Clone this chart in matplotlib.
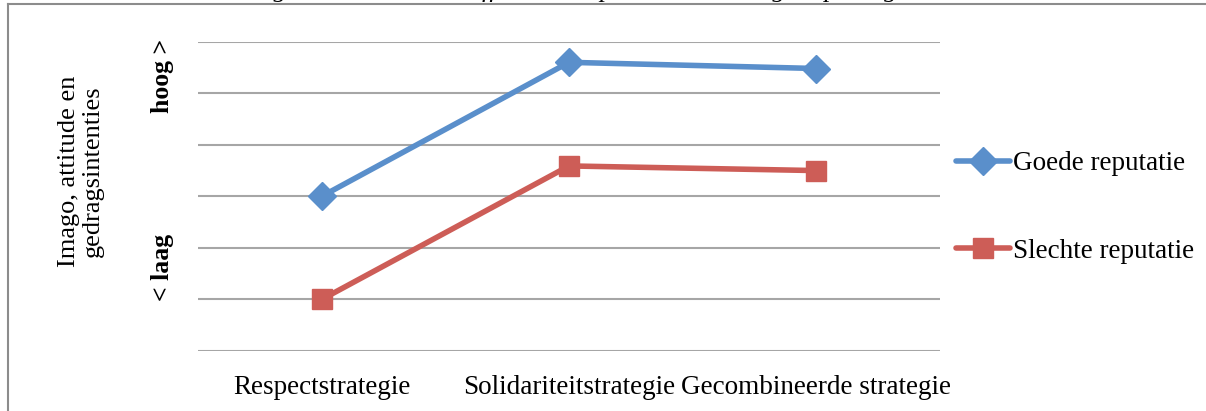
import matplotlib
matplotlib.use("Agg")
import matplotlib.pyplot as plt
from matplotlib.lines import Line2D

categories = ["Respectstrategie", "Solidariteitstrategie", "Gecombineerde strategie"]
goede = [3.0, 5.6, 5.48]
slechte = [1.0, 3.59, 3.5]
series_names = ["Goede reputatie", "Slechte reputatie"]
y_label = "Imago, attitude en\ngedragsintenties"
high_label = "hoog >"
low_label = "< laag"
title = "Figuur 4: Interactie-effect van reputatie en strategie op imago"

W, H = 1206, 411
plt.rcParams['font.family'] = ['Liberation Serif', 'DejaVu Serif']
fig = plt.figure(figsize=(W / 100, H / 100), dpi=100)

ax = fig.add_axes([198 / W, (H - 351) / H, (940 - 198) / W, (351 - 41.7) / H])
x = list(range(len(categories)))
blue = "#5A8FCB"
red = "#CD5D57"
ax.plot(x, goede, color=blue, lw=4, marker="D", ms=14, mec=blue, mfc=blue,
        label=series_names[0], solid_capstyle="round", zorder=3)
ax.plot(x, slechte, color=red, lw=4, marker="s", ms=15, mec=red, mfc=red,
        label=series_names[1], solid_capstyle="round", zorder=3)
ax.set_xlim(-0.5, 2.5)
ax.set_ylim(0, 6)
ax.set_yticks(range(0, 7))
ax.yaxis.grid(True, color="#A6A6A6", lw=1.5)
ax.set_yticklabels([])
ax.tick_params(axis="both", length=0)
ax.set_xticks(x)
ax.set_xticklabels(categories, fontsize=19.5)
ax.tick_params(axis="x", pad=17)
for s in ax.spines.values():
    s.set_visible(False)
ax.set_axisbelow(True)

# y-axis annotations
fig.text(163 / W, 1 - 76 / H, high_label, rotation=90, ha="center", va="center",
         fontsize=18.5, fontweight="bold")
fig.text(163 / W, 1 - 267 / H, low_label, rotation=90, ha="center", va="center",
         fontsize=18.5, fontweight="bold")
fig.text(81 / W, 1 - 171 / H, y_label, rotation=90, ha="center", va="center",
         fontsize=19, linespacing=1.1, multialignment="center")

# legend
fig.legend(loc="center left", bbox_to_anchor=(956 / W, 1 - 207.5 / H), frameon=False,
           fontsize=19.5, handlelength=2.0, handletextpad=0.1, labelspacing=2.32,
           borderaxespad=0, borderpad=0)

# frame
fig.add_artist(Line2D([8 / W, 8 / W], [0, 1 - 4.5 / H], transform=fig.transFigure,
                      color="#8C8C8C", lw=1.5))
fig.add_artist(Line2D([8 / W, 1], [1 - 4.5 / H, 1 - 4.5 / H], transform=fig.transFigure,
                      color="#8C8C8C", lw=1.5))

# clipped caption above the frame
fig.text(250 / W, 1 + 3 / H, title, ha="left", va="baseline", fontsize=19, style="italic")

fig.savefig("out.png", dpi=100)
